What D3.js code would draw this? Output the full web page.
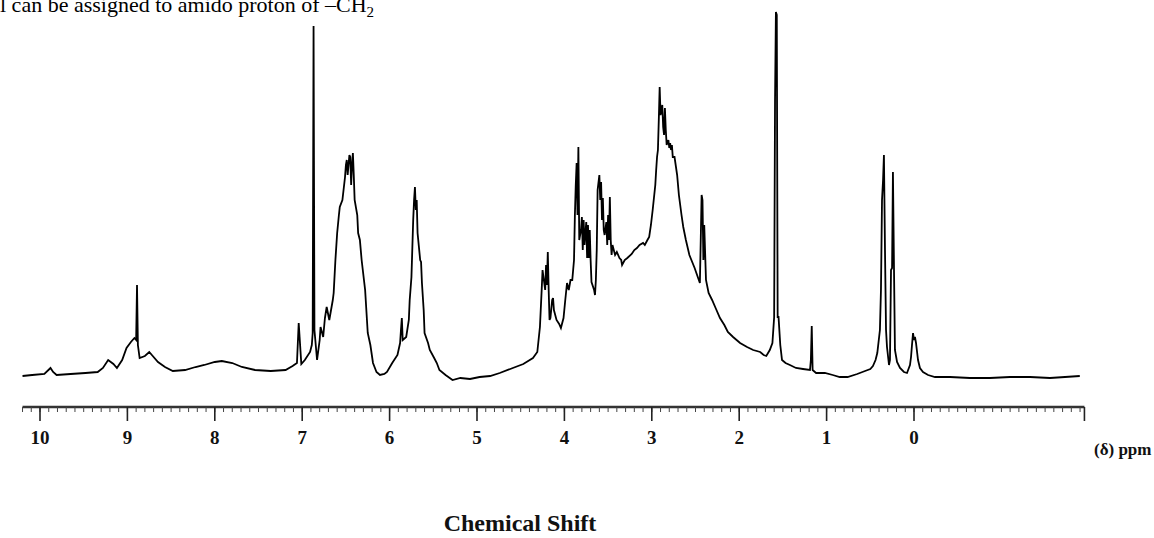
<!DOCTYPE html>
<html><head><meta charset="utf-8">
<script src="https://cdn.jsdelivr.net/npm/d3@7"></script>
<style>
html,body{margin:0;padding:0;background:#fff;}
svg{display:block;}
</style></head>
<body>
<svg id="chart" width="1154" height="538"></svg>
<script>
// chemical shift (ppm, as read on the printed axis) and signal height (arbitrary units)
const shiftPpm = [10.20,10.09,9.95,9.88,9.85,9.81,9.65,9.48,9.34,9.28,9.22,9.16,9.12,9.06,9.01,8.96,8.92,8.90,8.89,8.88,8.86,8.80,8.75,8.72,8.65,8.57,8.48,8.34,8.22,8.12,8.00,7.92,7.80,7.69,7.54,7.36,7.19,7.11,7.06,7.04,7.01,6.97,6.91,6.89,6.88,6.87,6.86,6.83,6.80,6.79,6.76,6.74,6.72,6.69,6.65,6.64,6.62,6.60,6.58,6.57,6.54,6.51,6.50,6.49,6.48,6.46,6.45,6.44,6.43,6.42,6.41,6.40,6.37,6.36,6.34,6.32,6.28,6.25,6.22,6.19,6.15,6.11,6.06,6.03,5.97,5.91,5.88,5.87,5.86,5.85,5.81,5.78,5.77,5.75,5.73,5.72,5.71,5.70,5.69,5.68,5.65,5.64,5.63,5.61,5.60,5.56,5.54,5.49,5.46,5.43,5.36,5.28,5.19,5.08,4.97,4.85,4.74,4.59,4.47,4.36,4.31,4.28,4.26,4.25,4.22,4.21,4.20,4.19,4.18,4.17,4.16,4.14,4.13,4.12,4.09,4.06,4.04,4.01,3.99,3.97,3.95,3.93,3.91,3.89,3.88,3.87,3.86,3.85,3.84,3.83,3.81,3.80,3.79,3.78,3.77,3.75,3.74,3.73,3.72,3.71,3.70,3.69,3.66,3.65,3.64,3.63,3.62,3.60,3.59,3.58,3.57,3.56,3.55,3.54,3.52,3.51,3.50,3.49,3.48,3.47,3.46,3.45,3.42,3.40,3.37,3.35,3.34,3.31,3.28,3.23,3.20,3.17,3.14,3.10,3.08,3.05,3.03,3.01,2.99,2.96,2.95,2.94,2.93,2.92,2.91,2.90,2.88,2.87,2.86,2.85,2.84,2.83,2.81,2.80,2.79,2.78,2.77,2.76,2.74,2.71,2.69,2.66,2.64,2.61,2.57,2.51,2.47,2.45,2.44,2.43,2.42,2.41,2.40,2.38,2.35,2.31,2.27,2.22,2.17,2.13,2.07,1.99,1.91,1.84,1.76,1.72,1.69,1.65,1.62,1.61,1.60,1.59,1.58,1.57,1.56,1.55,1.53,1.51,1.47,1.42,1.35,1.27,1.19,1.18,1.17,1.16,1.12,1.02,0.93,0.85,0.76,0.65,0.56,0.50,0.47,0.44,0.42,0.39,0.378,0.366,0.354,0.344,0.332,0.320,0.309,0.286,0.275,0.263,0.251,0.241,0.229,0.218,0.194,0.160,0.115,0.080,0.046,0.034,0.023,0.011,0.000,-0.011,-0.023,-0.046,-0.068,-0.103,-0.161,-0.240,-0.412,-0.640,-0.869,-1.098,-1.328,-1.556,-1.728,-1.897];
const signal = [4,5,6,12,8,5,6,7,8,12,20,16,12,20,32,38,42,40,95,35,22,24,28,25,18,13,9,10,13,15,18,19,17,13,10,9,10,14,17,57,16,20,28,35,47,354,50,20,40,53,43,62,73,60,80,87,120,147,165,173,180,203,215,220,205,225,223,195,215,227,205,180,165,147,140,120,90,47,35,17,8,5,6,8,17,25,37,50,62,40,43,60,80,103,160,180,193,170,180,147,120,118,97,70,47,37,30,22,17,10,5,0,2,1,3,4,7,12,16,22,28,53,90,110,90,115,95,128,90,60,62,80,82,70,60,56,52,62,80,97,90,100,100,120,165,195,217,165,233,140,150,163,130,160,135,158,122,155,122,150,120,98,90,85,100,130,190,205,180,198,160,182,150,145,158,135,165,140,183,140,125,135,125,128,122,120,115,120,122,126,130,132,135,137,135,140,143,155,170,195,210,223,230,260,293,265,275,253,245,272,250,235,240,232,237,230,235,223,223,205,185,165,153,140,125,112,102,97,140,185,180,120,155,100,87,80,72,62,55,48,43,37,33,30,28,25,24,30,37,50,63,280,368,365,63,63,35,20,17,15,12,11,10,20,54,10,7,7,5,3,3,6,9,11,14,20,27,50,90,180,200,225,130,50,33,15,20,110,112,208,112,30,18,12,8,7,15,23,35,47,40,43,37,20,12,8,5,3,3,2,2,3,3,2,3,4];
const tickValues = [10,9,8,7,6,5,4,3,2,1,0];
const tickLabels = ["10","9","8","7","6","5","4","3","2","1","0"];
const axisRange = [10.2, -1.95];
const unitLabel = "(\u03b4) ppm";
const axisTitle = "Chemical Shift";
const captionText = "l can be assigned to amido proton of \u2013CH";
const captionSub = "2";

const svg = d3.select("#chart");
const x = d3.scaleLinear().domain([10, 0]).range([40, 914]);
const y = d3.scaleLinear().domain([0, 380]).range([380, 0]);
const serif = "'Liberation Serif','Times New Roman',serif";

// caption text (cut off at the top in the original)
const cap = svg.append("text").attr("x", 0).attr("y", 12)
  .attr("font-family", serif).attr("font-size", 22).attr("fill", "#000").text(captionText);
cap.append("tspan").attr("dy", 5).attr("font-size", 15).text(captionSub);

// spectrum
const pts = shiftPpm.map((p, i) => [p, signal[i]]);
svg.append("path").datum(pts)
  .attr("fill", "none").attr("stroke", "#000").attr("stroke-width", 1.8)
  .attr("d", d3.line().x(d => x(d[0])).y(d => y(d[1])));

// axis
const axisY = 407;
const g = svg.append("g");
g.append("line").attr("x1", x(axisRange[0])).attr("x2", x(axisRange[1]))
  .attr("y1", axisY).attr("y2", axisY).attr("stroke", "#333").attr("stroke-width", 2.4);
const minor = d3.range(Math.ceil(axisRange[1]*10), Math.floor(axisRange[0]*10)+1).map(v => v/10);
g.selectAll("line.minor").data(minor).join("line").attr("class","minor")
  .attr("x1", d => x(d)).attr("x2", d => x(d))
  .attr("y1", axisY).attr("y2", axisY + 5)
  .attr("stroke", "#444").attr("stroke-width", 1);
g.selectAll("line.major").data(tickValues.concat([axisRange[1]])).join("line").attr("class","major")
  .attr("x1", d => x(d)).attr("x2", d => x(d))
  .attr("y1", axisY).attr("y2", axisY + 14)
  .attr("stroke", "#222").attr("stroke-width", 1.6);
g.selectAll("text.tl").data(tickValues).join("text").attr("class","tl")
  .attr("x", d => x(d)).attr("y", axisY + 37)
  .attr("text-anchor", "middle")
  .attr("font-family", serif).attr("font-weight", "bold").attr("font-size", 19).attr("fill", "#111")
  .text((d, i) => tickLabels[i]);

svg.append("text").attr("x", 1094).attr("y", 455)
  .attr("font-family", serif).attr("font-weight", "bold").attr("font-size", 17).attr("fill", "#111")
  .text(unitLabel);

svg.append("text").attr("x", 520).attr("y", 531).attr("text-anchor", "middle")
  .attr("font-family", serif).attr("font-weight", "bold").attr("font-size", 24).attr("fill", "#111")
  .text(axisTitle);
</script>
</body></html>
